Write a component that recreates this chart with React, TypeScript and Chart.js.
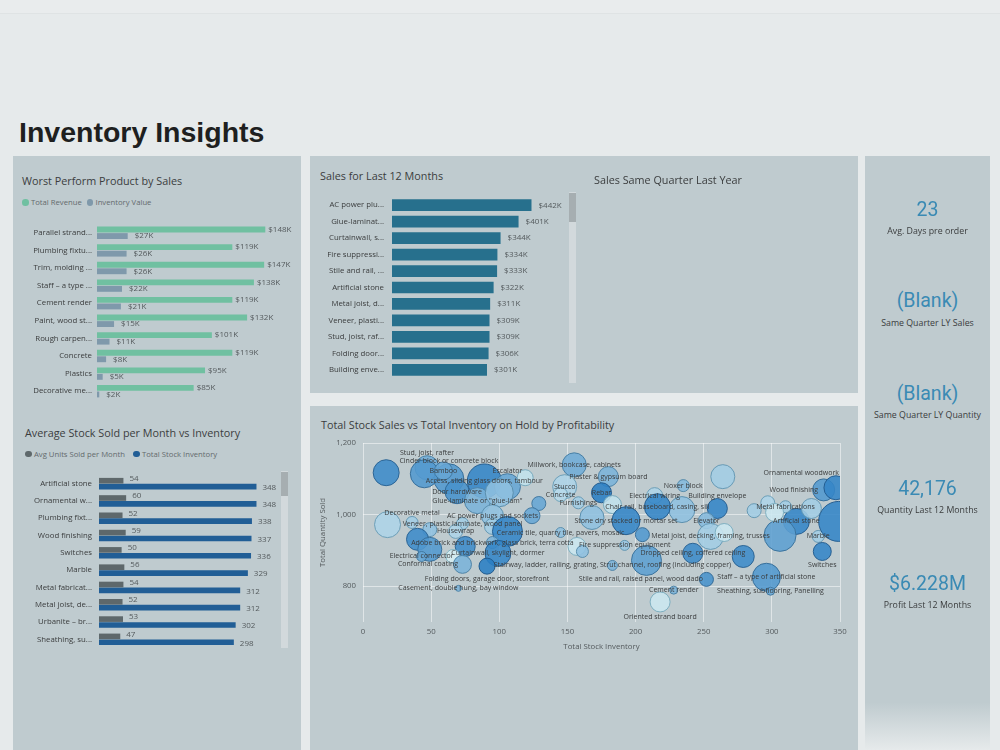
import React, { useEffect, useRef } from "react";
import { Chart, registerables } from "chart.js";

Chart.register(...registerables);

const UI_FONT = '"Open Sans", "Noto Sans", sans-serif';
const KPI_FONT = 'Roboto, "Noto Sans", sans-serif';
const PAGE_BG = "#e6eaeb";
const PANEL_BG = "#bfcbcf";
const TITLE_COLOR = "#3b3d3e";
const AXIS_COLOR = "#3a3c3d";
const VALUE_COLOR = "#545a5d";

// ---- Worst Perform Product by Sales ----
const worstProducts = [
  "Parallel strand...", "Plumbing fixtu...", "Trim, molding ...", "Staff – a type ...", "Cement render",
  "Paint, wood st...", "Rough carpen...", "Concrete", "Plastics", "Decorative me...",
];
const worstRevenueK = [148, 119, 147, 138, 119, 132, 101, 119, 95, 85];
const worstInventoryK = [27, 26, 26, 22, 21, 15, 11, 8, 5, 2];

// ---- Average Stock Sold per Month vs Inventory ----
const stockProducts = [
  "Artificial stone", "Ornamental w...", "Plumbing fixt...", "Wood finishing", "Switches",
  "Marble", "Metal fabricat...", "Metal joist, de...", "Urbanite – br...", "Sheathing, su...",
];
const avgUnitsSold = [54, 60, 52, 59, 50, 56, 54, 52, 53, 47];
const totalStockInventory = [348, 348, 338, 337, 336, 329, 312, 312, 302, 298];

// ---- Sales for Last 12 Months ----
const salesProducts = [
  "AC power plu...", "Glue-laminat...", "Curtainwall, s...", "Fire suppressi...", "Stile and rail, ...",
  "Artificial stone", "Metal joist, d...", "Veneer, plasti...", "Stud, joist, raf...", "Folding door...",
  "Building enve...",
];
const salesLast12K = [442, 401, 344, 334, 333, 322, 311, 309, 309, 306, 301];

// ---- Total Stock Sales vs Total Inventory on Hold by Profitability ----
const bubbleNames = [
  "", "Stud, joist, rafter", "Cinder block or concrete block", "", "Bamboo",
  "Door hardware", "Access, sliding glass doors, tambour", "Escalator", "", 'Glue-laminate or "glue-lam"',
  "", "", "", "AC power plugs and sockets", "Millwork, bookcase, cabinets",
  "Stucco", "Concrete", "Plaster & gypsum board", "Rebar", "",
  "Furnishings", "Electrical wiring", "", "Noxer block", "Building envelope",
  "", "Chair rail, baseboard, casing, sill", "", "Stone dry stacked or mortar set", "Elevator",
  "Metal joist, decking, framing, trusses", "", "", "", "",
  "Fire suppression equipment", "", "Stairway, ladder, railing, grating, Strut channel, roofing (including copper)", "Dropped ceiling, coffered ceiling", "",
  "Stile and rail, raised panel, wood dado", "Staff – a type of artificial stone", "Sheathing, subflooring, Panelling", "Oriented strand board", "Cement render",
  "Artificial stone", "", "Marble", "Metal fabrications", "",
  "", "", "", "Wood finishing", "Ornamental woodwork",
  "", "Switches", "", "Decorative metal", "",
  "Veneer, plastic laminate, wood panel", "Housewrap", "", "", "Ceramic tile, quarry tile, pavers, mosaic",
  "", "Adobe brick and brickwork, glass brick, terra cotta", "", "", "Electrical connector",
  "", "Conformal coating", "Curtainwall, skylight, dormer", "Folding doors, garage door, storefront", "Casement, double hung, bay window",
];
const bubbleInventory = [
  17, 47, 63, 45, 59, 69, 89, 106, 119, 84,
  100, 129, 124, 95, 155, 148, 145, 180, 175, 183,
  158, 214, 264, 235, 260, 234, 216, 168, 193, 252,
  255, 265, 205, 157, 161, 192, 208, 183, 242, 279,
  252, 296, 299, 218, 228, 318, 306, 334, 310, 329,
  287, 297, 302, 338, 347, 349, 337, 18, 36, 49,
  73, 68, 95, 106, 145, 40, 95, 49, 75, 43,
  66, 73, 99, 91, 70,
];
const bubbleQuantity = [
  1117, 1131, 1100, 1114, 1122, 1064, 1094, 1078, 1103, 1039,
  1061, 1031, 997, 997, 1139, 1078, 1056, 1106, 1061, 1028,
  1033, 1053, 1106, 1081, 1017, 1014, 1022, 992, 983, 983,
  939, 950, 944, 911, 897, 914, 872, 858, 892, 883,
  819, 825, 786, 756, 789, 981, 942, 939, 1022, 1017,
  1011, 1033, 1006, 1069, 1075, 981, 897, 972, 978, 958,
  975, 953, 967, 953, 950, 931, 922, 903, 911, 883,
  883, 861, 892, 856, 794,
];
const bubbleSalesK = [
  380, 324, 506, 441, 182, 324, 650, 380, 144, 380,
  441, 110, 144, 272, 324, 324, 110, 225, 225, 182,
  81, 144, 324, 81, 225, 380, 380, 324, 441, 144,
  380, 182, 110, 182, 81, 56, 506, 56, 225, 272,
  110, 441, 36, 225, 36, 380, 576, 81, 81, 225,
  110, 110, 182, 272, 324, 900, 182, 380, 81, 110,
  81, 110, 144, 506, 56, 272, 81, 324, 225, 56,
  110, 182, 380, 144, 20,
];
const bubbleMarginPct = [
  40, 30, 36, 36, 32, 38, 42, 32, 14, 28,
  24, 32, 32, 24, 30, 18, 16, 28, 44, 14,
  20, 18, 20, 26, 42, 24, 42, 24, 42, 26,
  20, 12, 36, 12, 24, 22, 34, 28, 40, 40,
  38, 36, 32, 12, 28, 42, 34, 20, 20, 20,
  20, 18, 12, 36, 42, 42, 42, 18, 20, 24,
  20, 18, 20, 42, 24, 40, 28, 36, 40, 32,
  10, 28, 42, 44, 28,
];
const quantityTicks = [800, 1000, 1200];

// Where a bubble's category label sits relative to the bubble (default: centred on it)
const LABEL_PLACEMENT: Record<string, "above" | "below" | "left"> = {
  "Stud, joist, rafter": "above",
  "Cinder block or concrete block": "above",
  "Escalator": "above",
  "Building envelope": "above",
  "Ornamental woodwork": "above",
  "Decorative metal": "above",
  "Oriented strand board": "below",
  "Switches": "below",
  "Folding doors, garage door, storefront": "below",
  "Stile and rail, raised panel, wood dado": "left",
  "Wood finishing": "left",
  "Conformal coating": "left",
};

// ---- Cards ----
const kpiValues = ["23", "(Blank)", "(Blank)", "42,176", "$6.228M"];
const kpiLabels = ["Avg. Days pre order", "Same Quarter LY Sales", "Same Quarter LY Quantity", "Quantity Last 12 Months", "Profit Last 12 Months"];

const REVENUE_GREEN = "#70c0a1";
const INVENTORY_SLATE = "#7f99ab";
const UNITS_GREY = "#5e686b";
const STOCK_BLUE = "#215e96";
const SALES_TEAL = "#27708d";

function mix(a: number[], b: number[], t: number, alpha: number) {
  const c = a.map((v, i) => Math.round(v + (b[i] - v) * t));
  return `rgba(${c[0]},${c[1]},${c[2]},${alpha})`;
}
function marginT(m: number) {
  return Math.max(0, Math.min(1, (m - 10) / 34));
}
const bubbleFill = (m: number) => mix([214, 238, 243], [42, 126, 196], marginT(m), 0.88);
const bubbleEdge = (m: number) => mix([128, 178, 194], [28, 86, 138], marginT(m), 0.95);

function valueLabels(id: string, format: (v: number) => string, gap: number[], dy: number[]) {
  return {
    id,
    afterDatasetsDraw(chart: any) {
      const ctx = chart.ctx;
      ctx.save();
      ctx.font = `8px ${UI_FONT}`;
      ctx.fillStyle = VALUE_COLOR;
      ctx.textBaseline = "middle";
      ctx.textAlign = "left";
      chart.data.datasets.forEach((ds: any, di: number) => {
        chart.getDatasetMeta(di).data.forEach((bar: any, i: number) => {
          ctx.fillText(format(ds.data[i]), bar.x + gap[di], bar.y + dy[di]);
        });
      });
      ctx.restore();
    },
  };
}

const bubbleLabels = {
  id: "bubbleLabels",
  afterDatasetsDraw(chart: any) {
    const { ctx, chartArea } = chart;
    const meta = chart.getDatasetMeta(0);
    ctx.save();
    ctx.font = `7px ${UI_FONT}`;
    ctx.fillStyle = "#3a3c3d";
    ctx.textBaseline = "middle";
    ctx.textAlign = "left";
    meta.data.forEach((pt: any, i: number) => {
      const name = bubbleNames[i];
      if (!name) return;
      const r = pt.options.radius;
      const place = LABEL_PLACEMENT[name];
      const w = ctx.measureText(name).width;
      let y = pt.y;
      if (place === "above") y = pt.y - r - 3;
      if (place === "below") y = pt.y + r + 5;
      let left = place === "left" ? pt.x - r / 2 - w : pt.x - w / 2;
      left = Math.max(chartArea.left + 1, Math.min(chartArea.right - 1 - w, left));
      ctx.fillText(name, left, y);
    });
    ctx.restore();
  },
};

function hbarOptions(xMax: number, axisWidth: number, labelPad: number, rightPad: number) {
  return {
    indexAxis: "y",
    responsive: false,
    animation: false,
    events: [],
    layout: { padding: { left: 0, top: 0, bottom: 0, right: rightPad } },
    plugins: { legend: { display: false }, tooltip: { enabled: false } },
    scales: {
      x: { display: false, min: 0, max: xMax },
      y: {
        grid: { display: false, drawTicks: false },
        border: { display: false },
        ticks: { autoSkip: false, padding: labelPad, color: AXIS_COLOR, font: { family: UI_FONT, size: 7.8 } },
        afterFit(scale: any) {
          scale.width = axisWidth;
          scale.paddingTop = 0;
          scale.paddingBottom = 0;
        },
      },
    },
  };
}

function ChartCanvas({ left, top, width, height, build }: { left: number; top: number; width: number; height: number; build: () => any }) {
  const ref = useRef<HTMLCanvasElement>(null);
  useEffect(() => {
    const chart = new Chart(ref.current as HTMLCanvasElement, build());
    return () => chart.destroy();
  }, []);
  return <canvas ref={ref} width={width} height={height} style={{ position: "absolute", left, top, width, height }} />;
}

function Text({ x, cy, size, color, text, align = "left", family = UI_FONT, weight = 400 }: any) {
  const h = Math.ceil(size * 2);
  const style: React.CSSProperties = {
    position: "absolute",
    top: cy - h / 2,
    height: h,
    lineHeight: `${h}px`,
    fontSize: size,
    fontFamily: family,
    fontWeight: weight,
    color,
    whiteSpace: "nowrap",
  };
  if (align === "center") {
    style.left = x - 200;
    style.width = 400;
    style.textAlign = "center";
  } else {
    style.left = x;
  }
  return <div style={style}>{text}</div>;
}

function Dot({ cx, cy, color }: { cx: number; cy: number; color: string }) {
  return <div style={{ position: "absolute", left: cx - 3.3, top: cy - 3.3, width: 6.6, height: 6.6, borderRadius: "50%", background: color }} />;
}

function Panel({ left, top, width, height, fade }: { left: number; top: number; width: number; height: number; fade?: boolean }) {
  return (
    <div
      style={{
        position: "absolute",
        left,
        top,
        width,
        height,
        background: fade ? `linear-gradient(to bottom, ${PANEL_BG} 0%, ${PANEL_BG} 92%, ${PAGE_BG} 100%)` : PANEL_BG,
      }}
    />
  );
}

function ScrollBar({ left, top, height, thumb }: { left: number; top: number; height: number; thumb: number }) {
  return (
    <div style={{ position: "absolute", left, top, width: 7, height, background: "#d2d9dc" }}>
      <div style={{ position: "absolute", left: 0, top: 1, width: 7, height: thumb, background: "#a6aeb1" }} />
    </div>
  );
}

export default function App() {
  const worstConfig = () => ({
    type: "bar",
    data: {
      labels: worstProducts,
      datasets: [
        { label: "Total Revenue", data: worstRevenueK, backgroundColor: REVENUE_GREEN, categoryPercentage: 0.74, barPercentage: 0.9 },
        { label: "Inventory Value", data: worstInventoryK, backgroundColor: INVENTORY_SLATE, categoryPercentage: 0.74, barPercentage: 0.9 },
      ],
    },
    options: hbarOptions(175, 77, 5, 0),
    plugins: [valueLabels("worstValues", (v) => `$${v}K`, [3, 7], [0, 0])],
  });

  const stockConfig = () => ({
    type: "bar",
    data: {
      labels: stockProducts,
      datasets: [
        { label: "Avg Units Sold per Month", data: avgUnitsSold, backgroundColor: UNITS_GREY, categoryPercentage: 0.68, barPercentage: 0.96 },
        { label: "Total Stock Inventory", data: totalStockInventory, backgroundColor: STOCK_BLUE, categoryPercentage: 0.68, barPercentage: 0.96 },
      ],
    },
    options: hbarOptions(400, 77, 7, 0),
    plugins: [valueLabels("stockValues", (v) => `${v}`, [6, 6], [-2, 1])],
  });

  const salesConfig = () => ({
    type: "bar",
    data: {
      labels: salesProducts,
      datasets: [{ label: "Sales", data: salesLast12K, backgroundColor: SALES_TEAL, categoryPercentage: 0.8, barPercentage: 0.89 }],
    },
    options: hbarOptions(526, 72, 8, 12),
    plugins: [valueLabels("salesValues", (v) => `$${v}K`, [7], [0])],
  });

  const axisFont = { family: UI_FONT, size: 7.8 };
  const grid = { color: "rgba(255,255,255,0.5)", drawTicks: false, lineWidth: 1 };

  const bubbleConfig = () => ({
    type: "bubble",
    data: {
      datasets: [
        {
          label: "Products",
          data: bubbleInventory.map((x, i) => ({ x, y: bubbleQuantity[i], r: Math.sqrt(bubbleSalesK[i]) / 1.5 })),
          backgroundColor: bubbleMarginPct.map(bubbleFill),
          borderColor: bubbleMarginPct.map(bubbleEdge),
          borderWidth: 1,
          clip: 0,
        },
      ],
    },
    options: {
      responsive: false,
      animation: false,
      events: [],
      layout: { autoPadding: false, padding: { top: 8, right: 10, left: 0, bottom: 0 } },
      plugins: { legend: { display: false }, tooltip: { enabled: false } },
      scales: {
        x: {
          type: "linear",
          min: 0,
          max: 350,
          ticks: { stepSize: 50, padding: 5, color: VALUE_COLOR, font: axisFont },
          grid,
          border: { display: false },
          title: { display: true, text: "Total Stock Inventory", color: VALUE_COLOR, font: axisFont, padding: { top: 2, bottom: 4 } },
          afterFit(scale: any) {
            scale.height = 33;
            scale.paddingLeft = 0;
            scale.paddingRight = 0;
          },
        },
        y: {
          type: "linear",
          min: 700,
          max: 1200,
          afterBuildTicks(scale: any) {
            scale.ticks = quantityTicks.map((value) => ({ value }));
          },
          ticks: {
            padding: 7,
            color: VALUE_COLOR,
            font: axisFont,
            callback: (v: any) => Number(v).toLocaleString("en-US"),
          },
          grid,
          border: { display: false },
          title: { display: true, text: "Total Quantity Sold", color: VALUE_COLOR, font: axisFont, padding: { top: 4, bottom: 2 } },
          afterFit(scale: any) {
            scale.width = 49;
            scale.paddingTop = 0;
            scale.paddingBottom = 0;
          },
        },
      },
    },
    plugins: [bubbleLabels],
  });

  const kpiCentres = [209.3, 300.7, 393.3, 488.3, 583.3];

  return (
    <div style={{ position: "fixed", left: 0, top: 0, width: 1000, height: 750, background: PAGE_BG, overflow: "hidden", fontFamily: UI_FONT }}>
      <div style={{ position: "absolute", left: 0, top: 0, width: 1000, height: 13, background: "#e9eced", borderBottom: "1px solid #dfe3e4" }} />

      <Text x={19} cy={132} size={28.5} weight={700} color="#1e1f20" family='"Liberation Sans", Arial, sans-serif' text="Inventory Insights" />

      <Panel left={13} top={156} width={288} height={594} />
      <Panel left={310} top={156} width={548} height={237} />
      <Panel left={310} top={406} width={548} height={344} />
      <Panel left={865} top={156} width={125} height={594} fade />

      {/* Worst Perform Product by Sales */}
      <Text x={22} cy={181} size={10.8} color={TITLE_COLOR} text="Worst Perform Product by Sales" />
      <Dot cx={25.7} cy={202.3} color={REVENUE_GREEN} />
      <Text x={31} cy={202} size={7.7} color="#646a6d" text="Total Revenue" />
      <Dot cx={90} cy={202.3} color={INVENTORY_SLATE} />
      <Text x={95.5} cy={202} size={7.7} color="#646a6d" text="Inventory Value" />
      <ChartCanvas left={20} top={224} width={276} height={176} build={worstConfig} />

      {/* Average Stock Sold per Month vs Inventory */}
      <Text x={25} cy={433} size={10.8} color={TITLE_COLOR} text="Average Stock Sold per Month vs Inventory" />
      <Dot cx={28.3} cy={454} color={UNITS_GREY} />
      <Text x={34} cy={454} size={7.7} color="#646a6d" text="Avg Units Sold per Month" />
      <Dot cx={136.7} cy={454} color={STOCK_BLUE} />
      <Text x={142} cy={454} size={7.7} color="#646a6d" text="Total Stock Inventory" />
      <ChartCanvas left={22} top={475} width={258} height={173} build={stockConfig} />
      <ScrollBar left={281} top={471} height={177} thumb={24} />

      {/* Sales for Last 12 Months */}
      <Text x={320} cy={176} size={10.8} color={TITLE_COLOR} text="Sales for Last 12 Months" />
      <ChartCanvas left={320} top={197} width={250} height={181} build={salesConfig} />
      <ScrollBar left={569} top={192} height={191} thumb={29} />

      <Text x={594} cy={180} size={10.8} color={TITLE_COLOR} text="Sales Same Quarter Last Year" />

      {/* Bubble chart */}
      <Text x={321} cy={425} size={10.8} color={TITLE_COLOR} text="Total Stock Sales vs Total Inventory on Hold by Profitability" />
      <ChartCanvas left={314} top={435} width={536} height={220} build={bubbleConfig} />

      {/* Cards */}
      {kpiValues.map((v, i) => (
        <React.Fragment key={i}>
          <Text x={927.5} cy={kpiCentres[i]} size={19.5} align="center" family={KPI_FONT} color="#3a8ab4" text={v} />
          <Text x={927.5} cy={kpiCentres[i] + 22} size={8.8} align="center" color="#3a3c3d" text={kpiLabels[i]} />
        </React.Fragment>
      ))}
    </div>
  );
}
